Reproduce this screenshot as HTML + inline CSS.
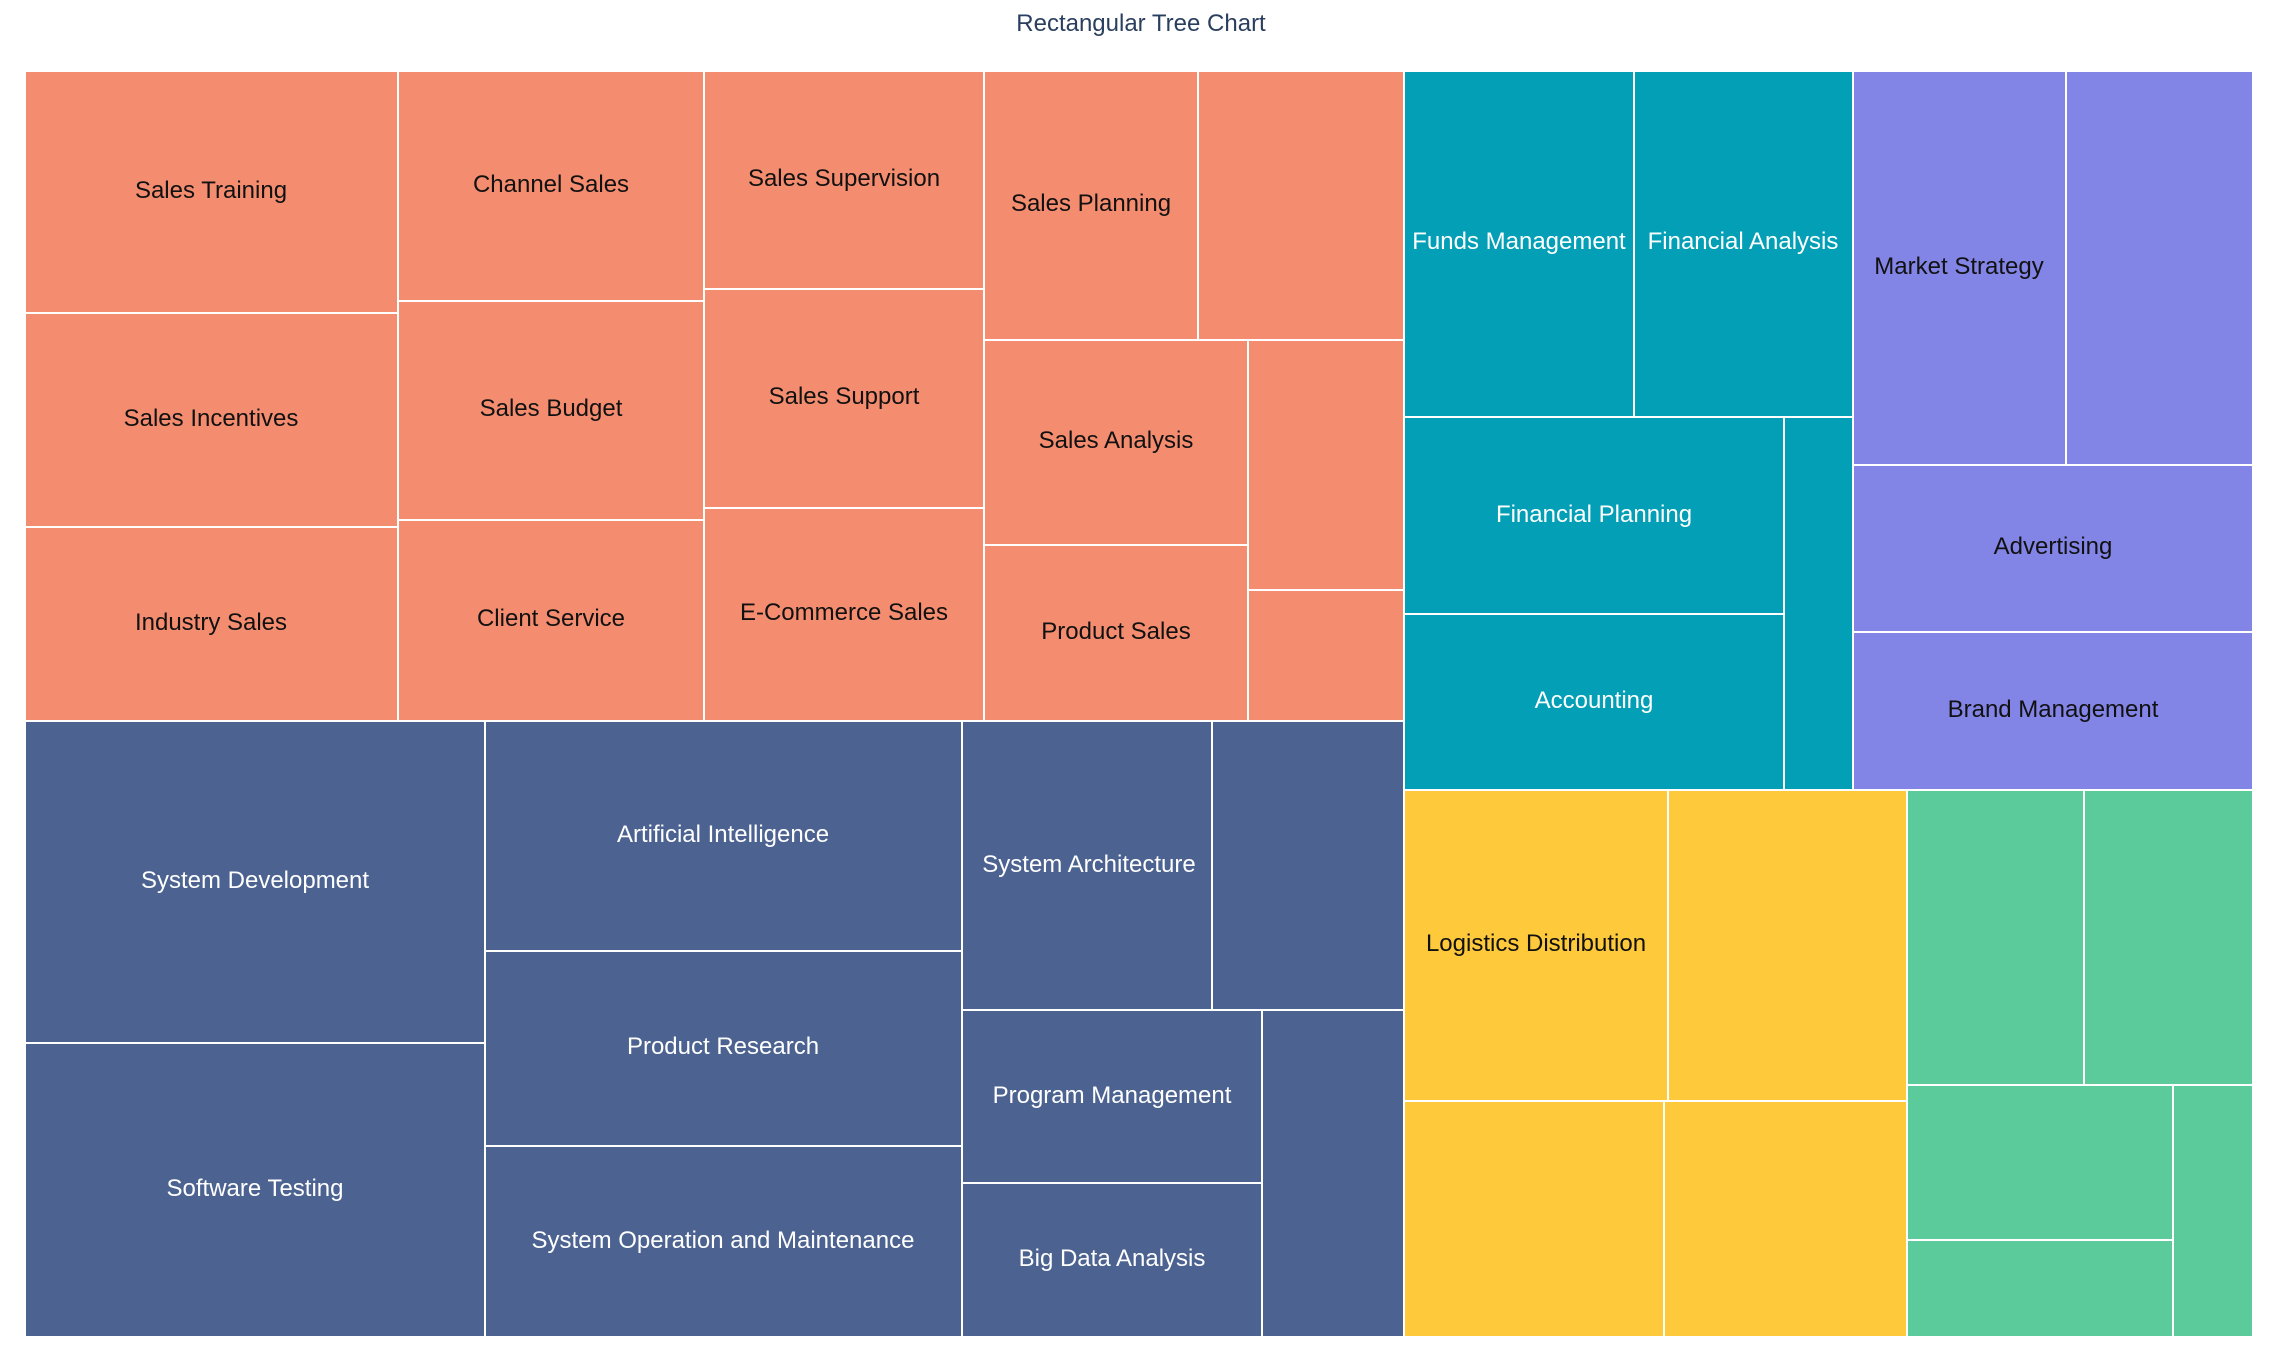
<!DOCTYPE html>
<html>
<head>
<meta charset="utf-8">
<style>
  html, body { margin: 0; padding: 0; background: #fff; }
  svg { display: block; }
  text { font-family: "Liberation Sans", Arial, sans-serif; }
  .d { fill: #111; font-size: 24px; text-anchor: middle; }
  .w { fill: #fff; font-size: 24px; text-anchor: middle; }
  rect { stroke: #fff; stroke-width: 2; }
  .s { fill: #F48D70; }
  .n { fill: #4C6290; }
  .t { fill: #039FB6; }
  .p { fill: #8284E6; }
  .y { fill: #FEC93A; }
  .g { fill: #5CCB9C; }
</style>
</head>
<body>
<svg width="2282" height="1366" viewBox="0 0 2282 1366" xmlns="http://www.w3.org/2000/svg">
  <rect x="0" y="0" width="2282" height="1366" fill="#fff" style="stroke:none"/>
  <text x="1141" y="31" style="font-size:24px;fill:#2a3f5f;text-anchor:middle">Rectangular Tree Chart</text>

  <!-- Sales (salmon) -->
  <rect class="s" x="25" y="71" width="373" height="242"/>
  <rect class="s" x="25" y="313" width="373" height="214"/>
  <rect class="s" x="25" y="527" width="373" height="194"/>
  <rect class="s" x="398" y="71" width="306" height="230"/>
  <rect class="s" x="398" y="301" width="306" height="219"/>
  <rect class="s" x="398" y="520" width="306" height="201"/>
  <rect class="s" x="704" y="71" width="280" height="218"/>
  <rect class="s" x="704" y="289" width="280" height="219"/>
  <rect class="s" x="704" y="508" width="280" height="213"/>
  <rect class="s" x="984" y="71" width="214" height="269"/>
  <rect class="s" x="1198" y="71" width="206" height="269"/>
  <rect class="s" x="984" y="340" width="264" height="205"/>
  <rect class="s" x="984" y="545" width="264" height="176"/>
  <rect class="s" x="1248" y="340" width="156" height="250"/>
  <rect class="s" x="1248" y="590" width="156" height="131"/>

  <!-- Tech (navy) -->
  <rect class="n" x="25" y="721" width="460" height="322"/>
  <rect class="n" x="25" y="1043" width="460" height="294"/>
  <rect class="n" x="485" y="721" width="477" height="230"/>
  <rect class="n" x="485" y="951" width="477" height="195"/>
  <rect class="n" x="485" y="1146" width="477" height="191"/>
  <rect class="n" x="962" y="721" width="250" height="289"/>
  <rect class="n" x="1212" y="721" width="192" height="289"/>
  <rect class="n" x="962" y="1010" width="300" height="173"/>
  <rect class="n" x="962" y="1183" width="300" height="154"/>
  <rect class="n" x="1262" y="1010" width="142" height="327"/>

  <!-- Finance (teal) -->
  <rect class="t" x="1404" y="71" width="230" height="346"/>
  <rect class="t" x="1634" y="71" width="219" height="346"/>
  <rect class="t" x="1404" y="417" width="380" height="197"/>
  <rect class="t" x="1404" y="614" width="380" height="176"/>
  <rect class="t" x="1784" y="417" width="69" height="373"/>

  <!-- Marketing (purple) -->
  <rect class="p" x="1853" y="71" width="213" height="394"/>
  <rect class="p" x="2066" y="71" width="187" height="394"/>
  <rect class="p" x="1853" y="465" width="400" height="167"/>
  <rect class="p" x="1853" y="632" width="400" height="158"/>

  <!-- Logistics (yellow) -->
  <rect class="y" x="1404" y="790" width="264" height="311"/>
  <rect class="y" x="1668" y="790" width="239" height="311"/>
  <rect class="y" x="1404" y="1101" width="260" height="236"/>
  <rect class="y" x="1664" y="1101" width="243" height="236"/>

  <!-- Green -->
  <rect class="g" x="1907" y="790" width="177" height="295"/>
  <rect class="g" x="2084" y="790" width="169" height="295"/>
  <rect class="g" x="1907" y="1085" width="266" height="155"/>
  <rect class="g" x="1907" y="1240" width="266" height="97"/>
  <rect class="g" x="2173" y="1085" width="80" height="252"/>

  <!-- Labels: Sales -->
  <text class="d" x="211" y="198">Sales Training</text>
  <text class="d" x="211" y="426">Sales Incentives</text>
  <text class="d" x="211" y="630">Industry Sales</text>
  <text class="d" x="551" y="192">Channel Sales</text>
  <text class="d" x="551" y="416">Sales Budget</text>
  <text class="d" x="551" y="626">Client Service</text>
  <text class="d" x="844" y="186">Sales Supervision</text>
  <text class="d" x="844" y="404">Sales Support</text>
  <text class="d" x="844" y="620">E-Commerce Sales</text>
  <text class="d" x="1091" y="211">Sales Planning</text>
  <text class="d" x="1116" y="448">Sales Analysis</text>
  <text class="d" x="1116" y="639">Product Sales</text>

  <!-- Labels: Tech -->
  <text class="w" x="255" y="888">System Development</text>
  <text class="w" x="255" y="1196">Software Testing</text>
  <text class="w" x="723" y="842">Artificial Intelligence</text>
  <text class="w" x="723" y="1054">Product Research</text>
  <text class="w" x="723" y="1248">System Operation and Maintenance</text>
  <text class="w" x="1089" y="872">System Architecture</text>
  <text class="w" x="1112" y="1103">Program Management</text>
  <text class="w" x="1112" y="1266">Big Data Analysis</text>

  <!-- Labels: Finance -->
  <text class="w" x="1519" y="249">Funds Management</text>
  <text class="w" x="1743" y="249">Financial Analysis</text>
  <text class="w" x="1594" y="522">Financial Planning</text>
  <text class="w" x="1594" y="708">Accounting</text>

  <!-- Labels: Marketing -->
  <text class="d" x="1959" y="274">Market Strategy</text>
  <text class="d" x="2053" y="554">Advertising</text>
  <text class="d" x="2053" y="717">Brand Management</text>

  <!-- Labels: Logistics -->
  <text class="d" x="1536" y="951">Logistics Distribution</text>
</svg>
</body>
</html>
